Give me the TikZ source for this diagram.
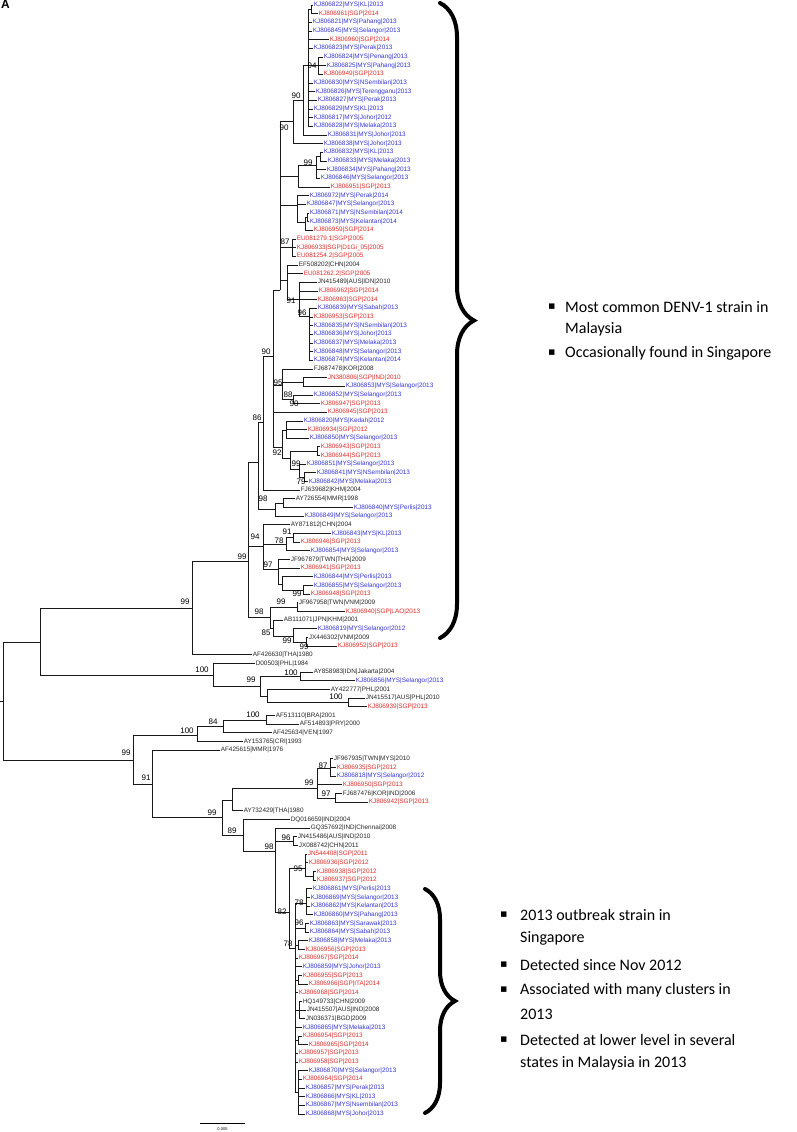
\documentclass[tikz,border=0pt]{standalone}
\usepackage{fontspec}
\setmainfont{Liberation Sans}
\newfontfamily\calib{Carlito}
\newfontfamily\dejavu{DejaVu Sans}
\usetikzlibrary{decorations.pathreplacing}
\definecolor{mb}{RGB}{55,55,215}
\definecolor{mr}{RGB}{225,45,45}
\definecolor{mk}{RGB}{40,40,40}
\tikzset{
 lf/.style={anchor=west, inner sep=0.6pt, font=\fontsize{6.4}{7}\selectfont},
 bs/.style={inner sep=0pt, font=\fontsize{8}{9}\selectfont},
 br/.style={line width=0.75pt, draw=black!90},
 note/.style={anchor=west, inner sep=0pt, font=\calib\fontsize{16}{19}\selectfont},
 bul/.style={anchor=west, inner sep=0pt, font=\dejavu\fontsize{11}{12}\selectfont},
 bigbrace/.style={decorate, decoration={brace, amplitude=#1}, line width=4pt, line cap=round},
}
\begin{document}
\begin{tikzpicture}[x=1pt,y=-1pt]
\useasboundingbox (0,0) rectangle (797,1132);
\fill[white] (0,0) rectangle (797,1132);
\node[anchor=north west, inner sep=0pt, font=\bfseries\fontsize{12}{13}\selectfont] (lblA) at (1,0) {A};
% leaves
\foreach [count=\i] \x/\c/\t in {
313/mb/{KJ806822|MYS|KL|2013},318/mr/{KJ806961|SGP|2014},312/mb/{KJ806821|MYS|Pahang|2013},312/mb/{KJ806845|MYS|Selangor|2013},
329/mr/{KJ806960|SGP|2014},313/mb/{KJ806823|MYS|Perak|2013},323/mb/{KJ806824|MYS|Penang|2013},326/mb/{KJ806825|MYS|Pahang|2013},
323/mr/{KJ806949|SGP|2013},313/mb/{KJ806830|MYS|NSembilan|2013},315/mb/{KJ806826|MYS|Terengganu|2013},317/mb/{KJ806827|MYS|Perak|2013},
313/mb/{KJ806829|MYS|KL|2013},313/mb/{KJ806817|MYS|Johor|2012},313/mb/{KJ806828|MYS|Melaka|2013},327/mb/{KJ806831|MYS|Johor|2013},
323/mb/{KJ806838|MYS|Johor|2013},323/mb/{KJ806832|MYS|KL|2013},327/mb/{KJ806833|MYS|Melaka|2013},326/mb/{KJ806834|MYS|Pahang|2013},
320/mb/{KJ806846|MYS|Selangor|2013},330/mr/{KJ806951|SGP|2013},309/mb/{KJ806972|MYS|Perak|2014},306/mb/{KJ806847|MYS|Selangor|2013},
309/mb/{KJ806871|MYS|NSembilan|2014},309/mb/{KJ806873|MYS|Kelantan|2014},313/mr/{KJ806959|SGP|2014},296/mr/{EU081279.1|SGP|2005},
296/mr/{KJ806933|SGP|D1Gi\_05|2005},296/mr/{EU081254.2|SGP|2005},298/mk/{EF508202|CHN|2004},303/mr/{EU081262.2|SGP|2005},
317/mk/{JN415489|AUS|IDN|2010},318/mr/{KJ806962|SGP|2014},317/mr/{KJ806963|SGP|2014},317/mb/{KJ806839|MYS|Sabah|2013},
313/mr/{KJ806953|SGP|2013},313/mb/{KJ806835|MYS|NSembilan|2013},313/mb/{KJ806836|MYS|Johor|2013},313/mb/{KJ806837|MYS|Melaka|2013},
313/mb/{KJ806848|MYS|Selangor|2013},313/mb/{KJ806874|MYS|Kelantan|2014},313/mk/{FJ687478|KOR|2008},327/mr/{JN380806|SGP|IND|2010},
345/mb/{KJ806853|MYS|Selangor|2013},313/mb/{KJ806852|MYS|Selangor|2013},320/mr/{KJ806947|SGP|2013},327/mr/{KJ806945|SGP|2013},
303/mb/{KJ806820|MYS|Kedah|2012},307/mr/{KJ806934|SGP|2012},309/mb/{KJ806850|MYS|Selangor|2013},320/mr/{KJ806943|SGP|2013},
320/mr/{KJ806944|SGP|2013},306/mb/{KJ806851|MYS|Selangor|2013},316/mb/{KJ806841|MYS|NSembilan|2013},308/mb/{KJ806842|MYS|Melaka|2013},
300/mk/{FJ639682|KHM|2004},295/mk/{AY726554|MMR|1998},353/mb/{KJ806840|MYS|Perlis|2013},304/mb/{KJ806849|MYS|Selangor|2013},
290/mk/{AY871812|CHN|2004},331/mb/{KJ806843|MYS|KL|2013},300/mr/{KJ806946|SGP|2013},310/mb/{KJ806854|MYS|Selangor|2013},
290/mk/{JF967879|TWN|THA|2009},300/mr/{KJ806941|SGP|2013},313/mb/{KJ806844|MYS|Perlis|2013},313/mb/{KJ806855|MYS|Selangor|2013},
310/mr/{KJ806948|SGP|2013},298/mk/{JF967958|TWN|VNM|2009},345/mr/{KJ806940|SGP|LAO|2013},283/mk/{AB111071|JPN|KHM|2001},
317/mb/{KJ806819|MYS|Selangor|2012},308/mk/{JX446302|VNM|2009},337/mr/{KJ806952|SGP|2013},252/mk/{AF426630|THA|1980},
255/mk/{D00503|PHL|1984},313/mk/{AY858983|IDN|Jakarta|2004},355/mb/{KJ806856|MYS|Selangor|2013},330/mk/{AY422777|PHL|2001},
365/mk/{JN415517|AUS|PHL|2010},367/mr/{KJ806939|SGP|2013},275/mk/{AF513110|BRA|2001},299/mk/{AF514893|PRY|2000},
272/mk/{AF425634|VEN|1997},243/mk/{AY153765|CRI|1993},220/mk/{AF425615|MMR|1976},333/mk/{JF967935|TWN|MYS|2010},
336/mr/{KJ806935|SGP|2012},336/mb/{KJ806818|MYS|Selangor|2012},342/mr/{KJ806950|SGP|2013},342/mk/{FJ687476|KOR|IND|2006},
368/mr/{KJ806942|SGP|2013},243/mk/{AY732429|THA|1980},290/mk/{DQ016659|IND|2004},310/mk/{GQ357692|IND|Chennai|2008},
297/mk/{JN415486|AUS|IND|2010},298/mk/{JX088742|CHN|2011},307/mr/{JN544408|SGP|2011},308/mr/{KJ806936|SGP|2012},
316/mr/{KJ806938|SGP|2012},316/mr/{KJ806937|SGP|2012},312/mb/{KJ806861|MYS|Perlis|2013},310/mb/{KJ806869|MYS|Selangor|2013},
310/mb/{KJ806862|MYS|Kelantan|2013},313/mb/{KJ806860|MYS|Pahang|2013},309/mb/{KJ806863|MYS|Sarawak|2013},309/mb/{KJ806864|MYS|Sabah|2013},
308/mb/{KJ806858|MYS|Melaka|2013},305/mr/{KJ806956|SGP|2013},298/mr/{KJ806967|SGP|2014},302/mb/{KJ806859|MYS|Johor|2013},
302/mr/{KJ806955|SGP|2013},308/mr/{KJ806966|SGP|ITA|2014},298/mr/{KJ806968|SGP|2014},302/mk/{HQ149733|CHN|2009},
306/mk/{JN415507|AUS|IND|2008},305/mk/{JN036371|BGD|2009},302/mb/{KJ806865|MYS|Melaka|2013},302/mr/{KJ806954|SGP|2013},
308/mr/{KJ806965|SGP|2014},298/mr/{KJ806957|SGP|2013},298/mr/{KJ806958|SGP|2013},308/mb/{KJ806870|MYS|Selangor|2013},
302/mr/{KJ806964|SGP|2014},305/mb/{KJ806857|MYS|Perak|2013},305/mb/{KJ806866|MYS|KL|2013},305/mb/{KJ806867|MYS|Nsembilan|2013},
305/mb/{KJ806868|MYS|Johor|2013}}
  \node[lf,text=\c] (L\i) at (\x,{5+8.664*(\i-1)}) {\t};
% internal nodes
\coordinate (n12) at (311,9.4);
\coordinate (nA1) at (308,65);
\coordinate (n94a) at (318,65.6);
\coordinate (nB1) at (303,100);
\coordinate (nC1) at (293,121);
\coordinate (n1819) at (320,156.6);
\coordinate (n99a) at (316,165);
\coordinate (nE) at (298,176);
\coordinate (nF) at (297,205);
\coordinate (n2526) at (307,217);
\coordinate (nG) at (305,222);
\coordinate (n87) at (292,247.6);
\coordinate (nM) at (287,280);
\coordinate (n91a) at (299,299);
\coordinate (n96a) at (309,316);
\coordinate (nD) at (280,290);
\coordinate (nN) at (303,381.9);
\coordinate (n88) at (293,399);
\coordinate (n95a) at (282,385);
\coordinate (nK) at (286,430);
\coordinate (n5253) at (317,451);
\coordinate (n79) at (304,477);
\coordinate (n99k) at (299,469);
\coordinate (nL) at (290,458);
\coordinate (n92) at (282,447);
\coordinate (n90c) at (273,356);
\coordinate (na) at (263,422);
\coordinate (nS) at (283,503);
\coordinate (n98c) at (275,509);
\coordinate (n86) at (258,462);
\coordinate (n9162) at (293,537.8);
\coordinate (n78c) at (286,544);
\coordinate (n99g) at (303,590);
\coordinate (npp) at (282,584);
\coordinate (n97) at (278,569);
\coordinate (n94) at (263,546);
\coordinate (n99h) at (297,607);
\coordinate (n99j) at (306,642);
\coordinate (n99i) at (293,636);
\coordinate (n85) at (273,628);
\coordinate (n98b) at (270,617);
\coordinate (nbt) at (248,561);
\coordinate (n99aa) at (192,608);
\coordinate (n100b) at (300,676.5);
\coordinate (n100c) at (348,702.5);
\coordinate (nQ) at (267,696);
\coordinate (n99f) at (260,686);
\coordinate (n100a) at (213,675);
\coordinate (ntop) at (40,642);
\coordinate (n100d) at (266,720);
\coordinate (n84) at (223,726);
\coordinate (n100e) at (197,735);
\coordinate (n87b) at (330,768);
\coordinate (n97b) at (335,798);
\coordinate (n99e) at (317,788);
\coordinate (n99d) at (232,800);
\coordinate (n9698) at (293,841);
\coordinate (n9599) at (313,876);
\coordinate (n95c) at (305,868);
\coordinate (n78a) at (306,903);
\coordinate (n96b) at (305,928);
\coordinate (nT) at (298,945);
\coordinate (nU) at (298,980);
\coordinate (nV) at (299,1010);
\coordinate (nW) at (298,1040);
\coordinate (nX) at (298,1092);
\coordinate (nP) at (295,948);
\coordinate (n82) at (289,912);
\coordinate (n98) at (275,851);
\coordinate (n89) at (243,835);
\coordinate (n99c) at (222,817);
\coordinate (n91) at (152,784);
\coordinate (n99b) at (133,760);
\coordinate (root) at (3,701);
\coordinate (root0) at (0,701);
% leaf branches
\foreach \p/\a/\b in {n12/1/2,nA1/3/6,nA1/10/15,n94a/7/9,nB1/16/16,nC1/17/17,n1819/18/19,n99a/20/21,nE/22/22,
 nF/23/24,n2526/25/26,nG/27/27,n87/28/30,nM/31/32,n91a/33/35,n96a/36/42,n95a/43/43,nN/44/45,n88/46/47,
 n90c/48/48,nK/49/51,n5253/52/53,n99k/54/54,n79/55/56,na/57/57,nS/58/59,n98c/60/60,n94/61/61,n9162/62/63,
 n78c/64/64,n97/65/66,npp/67/67,n99g/68/69,n99h/70/71,n85/72/72,n99i/73/73,n99j/74/75,n99aa/76/76,
 n100a/77/77,n100b/78/79,nQ/80/80,n100c/81/82,n100d/83/84,n84/85/85,n100e/86/86,n91/87/87,n87b/88/90,
 n99e/91/91,n97b/92/93,n99d/94/94,n89/95/95,n98/96/96,n9698/97/98,n95c/99/100,n9599/101/102,n78a/103/106,
 n96b/107/108,nT/109/110,nP/111/112,nP/115/115,nP/119/119,nP/122/123,nU/113/114,nV/116/118,nW/120/121,nX/124/129}
  \foreach \i in {\a,...,\b} \draw[br] (\p) |- (L\i.west);
% internal branches
\foreach \p/\c in {nA1/n12,nA1/n94a,nB1/nA1,nC1/nB1,nD/nC1,n99a/n1819,nE/n99a,nD/nE,nG/n2526,nF/nG,nD/nF,
 nD/n87,n91a/n96a,nM/n91a,nD/nM,n90c/nD,n95a/nN,n95a/n88,n90c/n95a,nL/n5253,n99k/n79,nL/n99k,n92/nK,n92/nL,
 n90c/n92,na/n90c,n86/na,n98c/nS,n86/n98c,nbt/n86,n78c/n9162,n94/n78c,npp/n99g,n97/npp,n94/n97,nbt/n94,
 n98b/n99h,n99i/n99j,n85/n99i,n98b/n85,nbt/n98b,n99aa/nbt,ntop/n99aa,n100a/n99f,n99f/n100b,n99f/nQ,nQ/n100c,
 ntop/n100a,root/ntop,n84/n100d,n100e/n84,n99b/n100e,n99e/n87b,n99e/n97b,n99d/n99e,n99c/n99d,n98/n9698,
 n95c/n9599,n82/n95c,nP/n78a,nP/n96b,nP/nT,nP/nU,nP/nV,nP/nW,nP/nX,n82/nP,n98/n82,n89/n98,n99c/n89,
 n91/n99c,n99b/n91,root/n99b}
  \draw[br] (\p) |- (\c);
\draw[br] (root0) -- (root);
% bootstrap values
\foreach [count=\j] \x/\y/\v in {312/66/94,296/96/90,284/128/90,308/163/99,285/242/87,291/301/91,302/313/96,
 266/352/90,278/383/95,288/395/88,294/404/90,257/418/86,277/453/92,296/464/99,301/482/79,263/499/98,
 255/537/94,287/532/91,279/541/78,268/565/97,242/557/99,297/594/99,185/602/99,281/602/99,259/612/98,
 266/633/85,287/641/99,304/647/99,202/670/100,291/673/100,251/680/99,336/697/100,253/715/100,213/722/84,
 187/731/100,126/753/99,146/778/91,323/766/87,309/783/99,326/794/97,212/813/99,232/831/89,286/838/96,
 269/847/98,298/869/95,299/903/78,282/912/82,299/923/96,288/944/78}
  \node[bs] (bv\j) at (\x,\y) {\v};
% scale bar
\coordinate (sb1) at (200,1123);
\coordinate (sb2) at (245,1123);
\draw[line width=0.6pt] (sb1) -- (sb2);
\node[inner sep=0pt, font=\fontsize{4}{5}\selectfont] (sbl) at (222.5,1129) {0.005};
% braces
\coordinate (ba1) at (440,3);
\coordinate (ba2) at (440,638);
\draw[bigbrace=34pt] (ba1) -- (ba2);
\coordinate (bb1) at (425,889);
\coordinate (bb2) at (425,1113);
\draw[bigbrace=30pt] (bb1) -- (bb2);
% notes
\node[bul] (u1) at (548,307) {▪};
\node[note] (t1) at (565,307) {Most common DENV-1 strain in};
\node[note] (t1b) at (565,329) {Malaysia};
\node[bul] (u2) at (548,353) {▪};
\node[note] (t2) at (565,353) {Occasionally found in Singapore};
\node[bul] (u3) at (500,915) {▪};
\node[note] (t3) at (520,915) {2013 outbreak strain in};
\node[note] (t3b) at (520,938) {Singapore};
\node[bul] (u4) at (500,965) {▪};
\node[note] (t4) at (520,965) {Detected since Nov 2012};
\node[bul] (u5) at (500,990) {▪};
\node[note] (t5) at (520,990) {Associated with many clusters in};
\node[note] (t5b) at (520,1014) {2013};
\node[bul] (u6) at (500,1040) {▪};
\node[note] (t6) at (520,1040) {Detected at lower level in several};
\node[note] (t6b) at (520,1063) {states in Malaysia in 2013};
\end{tikzpicture}
\end{document}
